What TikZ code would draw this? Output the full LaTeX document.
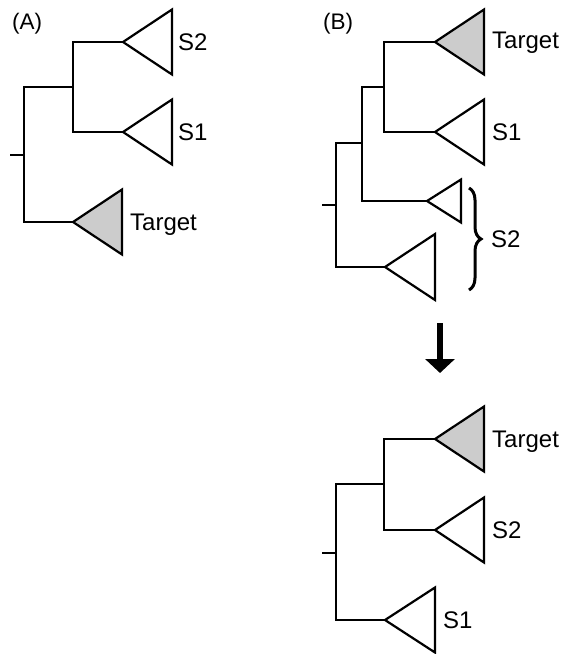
\documentclass[tikz,border=0pt]{standalone}
\usepackage{fontspec}
\setmainfont{Liberation Sans}
\usetikzlibrary{arrows.meta,decorations.pathreplacing}

\tikzset{
	branch/.style={line width=2.3pt},
	clade/.style={draw,line width=2.2pt,fill=white},
	target/.style={clade,fill=black!20},
	taxon/.style={anchor=base west,inner sep=0pt,font=\fontsize{24}{29}\selectfont},
	panel/.style={anchor=base west,inner sep=0pt,font=\fontsize{22.5}{27}\selectfont},
}

\begin{document}
\begin{tikzpicture}[x=1pt,y=-1pt]
	\useasboundingbox (0,0) rectangle (562,654);
	% panel A
	\node[panel] (labA) at (12,29.5) {(A)};
	\coordinate (aStub) at (10,155);
	\coordinate (a0) at (24,155);
	\coordinate (a1) at (73,87);
	\coordinate (aS2) at (123,42);
	\coordinate (aS1) at (123,132);
	\coordinate (aT) at (73,222);
	\draw[branch] (aStub) -- (a0);
	\draw[branch] (a1) -| (a0) |- (aT);
	\draw[branch] (aS2) -| (a1) |- (aS1);
	\draw[clade] (aS2) -- ++(49,-32.5) -- ++(0,65) -- cycle;
	\draw[clade] (aS1) -- ++(49,-32.5) -- ++(0,65) -- cycle;
	\draw[target] (aT) -- ++(49,-32.5) -- ++(0,65) -- cycle;
	\node[taxon] (aS2lab) at (178,50) {S2};
	\node[taxon] (aS1lab) at (178,140) {S1};
	\node[taxon] (aTlab) at (130,230) {Target};
	% panel B, before
	\node[panel] (labB) at (323,29.5) {(B)};
	\coordinate (bStub) at (322,205);
	\coordinate (b0) at (336,205);
	\coordinate (b1) at (362,143);
	\coordinate (b2) at (384,87);
	\coordinate (bT) at (435,42);
	\coordinate (bS1) at (435,132);
	\coordinate (bS2a) at (427,201);
	\coordinate (bS2b) at (385,267);
	\draw[branch] (bStub) -- (b0);
	\draw[branch] (b1) -| (b0) |- (bS2b);
	\draw[branch] (b2) -| (b1) |- (bS2a);
	\draw[branch] (bT) -| (b2) |- (bS1);
	\draw[target] (bT) -- ++(49,-32.5) -- ++(0,65) -- cycle;
	\draw[clade] (bS1) -- ++(49,-32.5) -- ++(0,65) -- cycle;
	\draw[clade] (bS2a) -- ++(34,-21.5) -- ++(0,43) -- cycle;
	\draw[clade] (bS2b) -- ++(50,-33) -- ++(0,66) -- cycle;
	\node[taxon] (bTlab) at (492,48.5) {Target};
	\node[taxon] (bS1lab) at (492,140) {S1};
	\coordinate (braceTop) at (469,188);
	\coordinate (braceBot) at (469,290);
	\draw[line width=3pt,decorate,decoration={brace,amplitude=12pt}] (braceTop) -- (braceBot);
	\node[taxon] (bS2lab) at (491,247) {S2};
	% arrow
	\coordinate (arrTop) at (440,323);
	\coordinate (arrTip) at (440,373);
	\draw[line width=6pt,-{Triangle[width=29pt,length=14pt]}] (arrTop) -- (arrTip);
	% panel B, after
	\coordinate (cStub) at (322,553);
	\coordinate (c0) at (336,553);
	\coordinate (c1) at (384,484);
	\coordinate (cT) at (435,439);
	\coordinate (cS2) at (435,530);
	\coordinate (cS1) at (385,620);
	\draw[branch] (cStub) -- (c0);
	\draw[branch] (c1) -| (c0) |- (cS1);
	\draw[branch] (cT) -| (c1) |- (cS2);
	\draw[target] (cT) -- ++(49,-32.5) -- ++(0,65) -- cycle;
	\draw[clade] (cS2) -- ++(49,-32.5) -- ++(0,65) -- cycle;
	\draw[clade] (cS1) -- ++(50,-32.5) -- ++(0,65) -- cycle;
	\node[taxon] (cTlab) at (492,447) {Target};
	\node[taxon] (cS2lab) at (492,538) {S2};
	\node[taxon] (cS1lab) at (443,628) {S1};
\end{tikzpicture}
\end{document}
